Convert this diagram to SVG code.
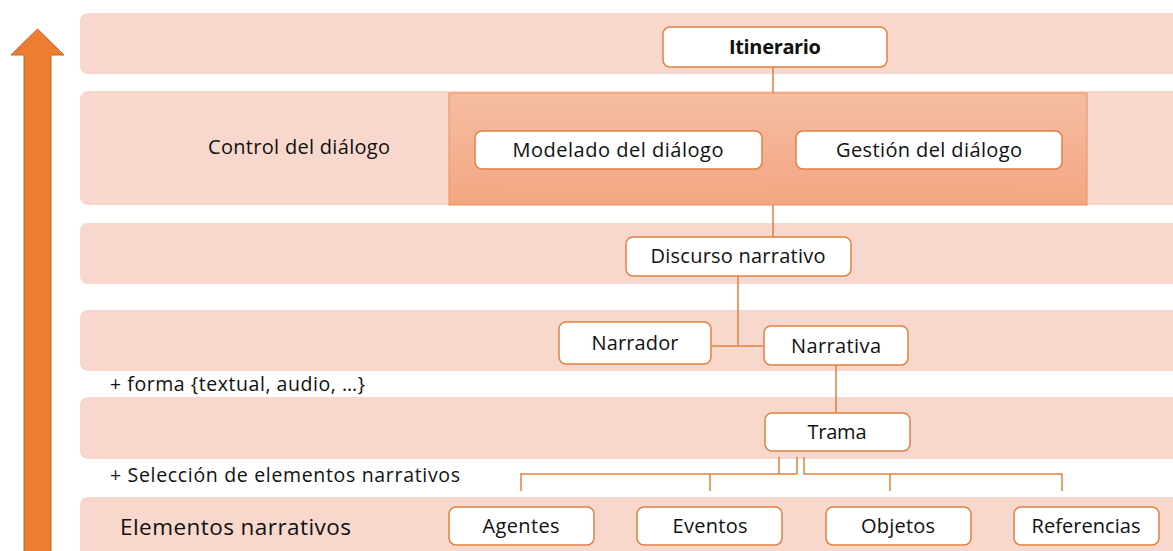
<svg xmlns="http://www.w3.org/2000/svg" width="1173" height="551" viewBox="0 0 1173 551">
<defs>
<linearGradient id="ctl" x1="0" y1="0" x2="0" y2="1">
<stop offset="0" stop-color="#F5BDA4"/>
<stop offset="1" stop-color="#F4A681"/>
</linearGradient>
</defs>
<style>
.band{fill:#F8D7CC}
.box{fill:#FFFFFF;stroke:#E2813F;stroke-width:1.5}
.t{font-family:"Open Sans","Liberation Sans",sans-serif;font-size:20px;fill:#111111;text-anchor:middle}
.l{font-family:"Open Sans","Liberation Sans",sans-serif;fill:#111111}
.c{fill:none;stroke:#E2813F;stroke-width:1.5}
</style>
<rect width="1173" height="551" fill="#FFFFFF"/>
<g id="bands">
<rect class="band" x="80" y="13" width="1110" height="61" rx="8"/>
<rect class="band" x="80" y="91" width="1110" height="114" rx="8"/>
<rect class="band" x="80" y="223" width="1110" height="61" rx="8"/>
<rect class="band" x="80" y="310" width="1110" height="61" rx="8"/>
<rect class="band" x="80" y="397" width="1110" height="62" rx="8"/>
<rect class="band" x="80" y="497" width="1110" height="70" rx="8"/>
</g>
<g id="arrow">
<polygon points="37.5,29 64,55 51,55 51,560 24,560 24,55 11,55" fill="#ED7D31" stroke="#C2682B" stroke-width="1"/>
</g>
<g id="control">
<rect x="449" y="93" width="638" height="112" fill="url(#ctl)" stroke="#EE8E55" stroke-width="1"/>
</g>
<g id="connectors">
<path class="c" d="M773,67 V93"/>
<path class="c" d="M773,205 V237"/>
<path class="c" d="M738,276 V346 M711,346 H764"/>
<path class="c" d="M836,365 V413"/>
<path class="c" d="M779,457 V474 M797,457 V474 M521,491 V474 H797 M710,474 V491"/>
<path class="c" d="M804,457 V474 H1062 V491 M890,474 V491"/>
</g>
<g id="labels">
<text class="l" x="208" y="154" font-size="20" textLength="182">Control del diálogo</text>
<text class="l" x="110" y="391" font-size="19.5" textLength="255">+ forma {textual, audio, …}</text>
<text class="l" x="110" y="482" font-size="19.5" textLength="350">+ Selección de elementos narrativos</text>
<text class="l" x="120" y="535" font-size="22.5" textLength="231">Elementos narrativos</text>
</g>
<g id="itinerario">
<rect class="box" x="663" y="27" width="224" height="40" rx="7"/>
<text class="t" x="775" y="54" font-weight="bold" textLength="92">Itinerario</text>
</g>
<g id="modelado">
<rect class="box" x="475" y="131" width="287" height="38" rx="7"/>
<text class="t" x="618" y="157" textLength="211">Modelado del diálogo</text>
</g>
<g id="gestion">
<rect class="box" x="796" y="131" width="266" height="38" rx="7"/>
<text class="t" x="929" y="157" textLength="186">Gestión del diálogo</text>
</g>
<g id="discurso">
<rect class="box" x="626" y="237" width="225" height="39" rx="7"/>
<text class="t" x="738" y="263" textLength="175">Discurso narrativo</text>
</g>
<g id="narrador">
<rect class="box" x="559" y="322" width="152" height="42" rx="7"/>
<text class="t" x="635" y="350" textLength="87">Narrador</text>
</g>
<g id="narrativa">
<rect class="box" x="764" y="326" width="144" height="39" rx="7"/>
<text class="t" x="836" y="353" textLength="90">Narrativa</text>
</g>
<g id="trama">
<rect class="box" x="765" y="413" width="145" height="38" rx="7"/>
<text class="t" x="837" y="439" textLength="59">Trama</text>
</g>
<g id="agentes">
<rect class="box" x="449" y="507" width="145" height="38" rx="7"/>
<text class="t" x="521" y="533" textLength="77">Agentes</text>
</g>
<g id="eventos">
<rect class="box" x="637" y="507" width="145" height="38" rx="7"/>
<text class="t" x="710" y="533" textLength="75">Eventos</text>
</g>
<g id="objetos">
<rect class="box" x="826" y="507" width="145" height="38" rx="7"/>
<text class="t" x="898" y="533" textLength="74">Objetos</text>
</g>
<g id="referencias">
<rect class="box" x="1014" y="507" width="145" height="38" rx="7"/>
<text class="t" x="1086" y="533" textLength="109">Referencias</text>
</g>
</svg>
